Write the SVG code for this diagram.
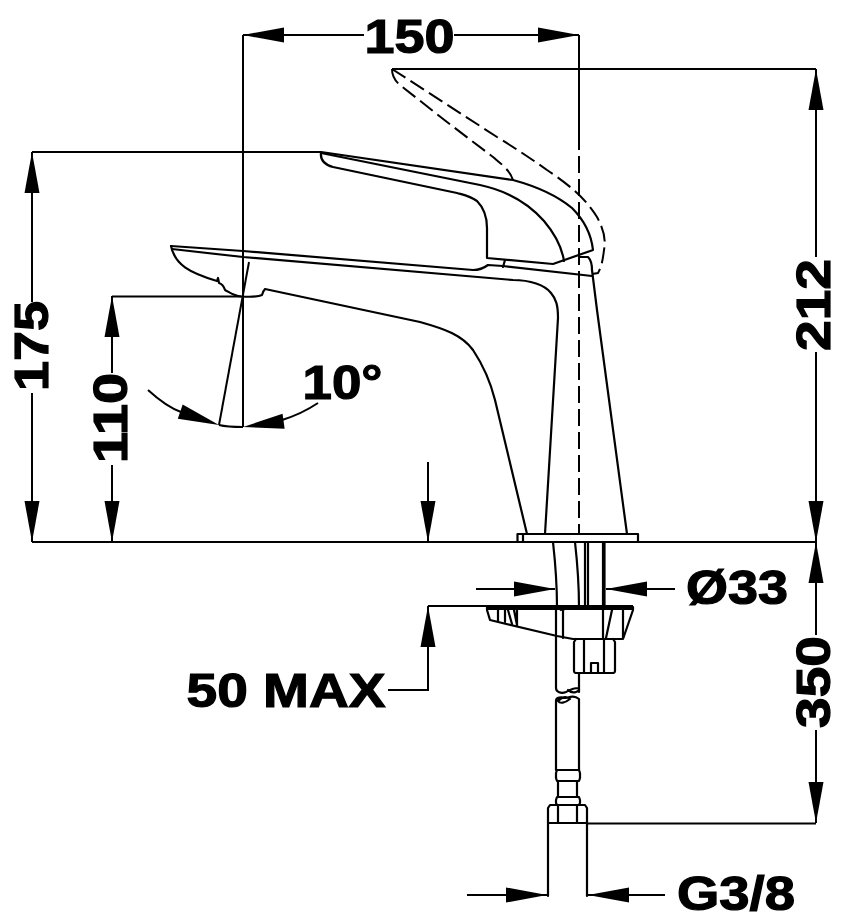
<svg xmlns="http://www.w3.org/2000/svg" width="864" height="923" viewBox="0 0 864 923">
<style>
.d{fill:none;stroke:#000;stroke-width:2}
.b{fill:none;stroke:#000;stroke-width:2.200;stroke-linejoin:round;stroke-linecap:round}
.h{fill:none;stroke:#000;stroke-width:2;stroke-dasharray:16 6}
.t{font-family:"Liberation Sans",Arial,sans-serif;font-weight:700;font-size:48px;fill:#000;stroke:#000;stroke-width:1.200;text-anchor:middle}
</style>
<defs>
<polygon id="a" points="0,0 -41,-7.500 -41,7.500" fill="#000"/>
</defs>
<rect width="864" height="923" fill="#fff"/>
<g id="faucet">
<path class="b" d="M321,152L513,180C535,186 555,194 572,208C583,219 591,232 593,250L553,264L487,258V228C487,216 484,208 477,201C470,196 464,195 457,193L333,167C325,165 320,160 321,152Z"/>
<path class="b" d="M321,153L480,185C508,191 529,204 544,221C555,234 562,248 564,261"/>
<path class="b" d="M171,246L243,251L473,270C480,270 484,268 488,265L503,266L592,276"/>
<path class="b" d="M171,246C175,265 190,273 217,281L218,278L219,283C223,284 224,287 225,290C229,292 234,296 241,296.500C250,297 258,297 262,295C263,292 264,290 265,289L420,322C445,329 462,335 473,350C483,365 490,380 495,400L527,534"/>
<path class="b" d="M172,249L243,257L513,280C530,280 545,285 551,293C556,299 558,305 558,318L545,534"/>
<path class="b" d="M505,260L503,267M580,257L588,257C591,260 592,265 592,270L597,310L627,534"/>
<path class="h" d="M392,69L497,137C515,148 530,158 547,170C565,182 585,197 597,217C604,230 606,240 604,250C603,258 602,266 598,273L592,274"/>
<path class="h" d="M392,69C392,75 395,81 400,85L447,122L493,157C500,163 510,170 513,180"/>
<path class="b" d="M517.500,534H638V542H517.500ZM523,534V542"/>
<path class="b" d="M553,542C555,560 557,580 557,607M575,542C577,560 579,580 579,607M585,542V607M588,542V607M603,542V607M604.500,542V607"/>
</g>
<g id="nut">
<path class="b" d="M487,607H633V610L623,639H573L557,636L490,620L487,610Z"/>
<path class="b" d="M487,609H633M498,610V621M505,610V622M508,610L512,624M514,610L517,625M517,610V626M603,610L603,638M612,610L606,638M623,610L623,638"/>
<path class="b" d="M556,636V610C556,609 557,608 558,608C559,608 560,609 561,610M579,608H566C564,608 563,610 563,612V638"/>
<path class="b" d="M576,639L574,642V671C574,673 575,673 577,673H612C614,673 615,673 615,671V642L613,639M584,639V673M604,639V673M591,673V663H598V673"/>
<path class="b" d="M556,636V688C556,692 561,694 566,692C570,690 573,688 578,688C580,689 579,691 576,692C573,693 570,692 568,690M579,673V692"/>
<path class="b" d="M556,770V701C556,697 561,697 566,698C570,697 574,695 579,699V770M558,701C560,704 565,703 570,699C566,696 562,697 558,701Z"/>
<path class="b" d="M557,770H579L580,773V778L579,781H557L556,778V773ZM558,781V797M577,781V797M557,797H579L580,800V803L579,805H557L556,803V800Z"/>
<path class="b" d="M550,805H585L587,808V823H548V808ZM558,805V823M577,805V823"/>
<path class="b" d="M548,823V896M587,823V896"/>
</g>
<g id="connectors">
<path class="d" d="M243,35V427M579,35V133"/>
<path class="d" stroke-dasharray="17 6" d="M579,133V534"/>
<path class="d" d="M243,35H364M454,35H579M392,69H816M32,152H321M112,296.500H241M32,542H816M587,823.500H816"/>
<path class="d" d="M816,69V257M816,352V542M816,542V635M816,730V823"/>
<path class="d" d="M32,152V302M32,393V542M112,296V373M112,465V542"/>
<path class="d" d="M249,262L219,425"/>
<path class="d" d="M148,390C160,401 170,408 181,412M282,420C295,416 306,411 318,403"/>
<path class="d" d="M219,425C227,427 235,427 243,427"/>
<path class="d" d="M428,462V542M428,606V690H388M428,606H633"/>
<path class="d" d="M476,589H555M606,589H675M467,895H547M588,895H665"/>
<use href="#a" transform="translate(243,35) rotate(180)"/>
<use href="#a" transform="translate(579,35)"/>
<use href="#a" transform="translate(816,69) rotate(-90)"/>
<use href="#a" transform="translate(816,542) rotate(90)"/>
<use href="#a" transform="translate(816,542) rotate(-90)"/>
<use href="#a" transform="translate(816,823) rotate(90)"/>
<use href="#a" transform="translate(32,152) rotate(-90)"/>
<use href="#a" transform="translate(32,542) rotate(90)"/>
<use href="#a" transform="translate(112,296) rotate(-90)"/>
<use href="#a" transform="translate(112,542) rotate(90)"/>
<use href="#a" transform="translate(219,425) rotate(19)"/>
<use href="#a" transform="translate(243,427) rotate(172)"/>
<use href="#a" transform="translate(428,542) rotate(90)"/>
<use href="#a" transform="translate(428,606) rotate(-90)"/>
<use href="#a" transform="translate(555,589)"/>
<use href="#a" transform="translate(606,589) rotate(180)"/>
<use href="#a" transform="translate(547,895)"/>
<use href="#a" transform="translate(588,895) rotate(180)"/>
</g>
<g id="labels">
<text class="t" x="409.500" y="52.500" textLength="90" lengthAdjust="spacingAndGlyphs">150</text>
<text class="t" transform="translate(830,305) rotate(-90)" textLength="92" lengthAdjust="spacingAndGlyphs">212</text>
<text class="t" transform="translate(47.500,346) rotate(-90)" textLength="90" lengthAdjust="spacingAndGlyphs">175</text>
<text class="t" transform="translate(127,418) rotate(-90)" textLength="90" lengthAdjust="spacingAndGlyphs">110</text>
<text class="t" transform="translate(830,682) rotate(-90)" textLength="92" lengthAdjust="spacingAndGlyphs">350</text>
<text class="t" x="342.500" y="399" textLength="80" lengthAdjust="spacingAndGlyphs">10°</text>
<text class="t" x="737" y="604" textLength="102" lengthAdjust="spacingAndGlyphs">Ø33</text>
<text class="t" x="286" y="706.500" textLength="199" lengthAdjust="spacingAndGlyphs">50 MAX</text>
<text class="t" x="736" y="910" textLength="118" lengthAdjust="spacingAndGlyphs">G3/8</text>
</g>
</svg>
